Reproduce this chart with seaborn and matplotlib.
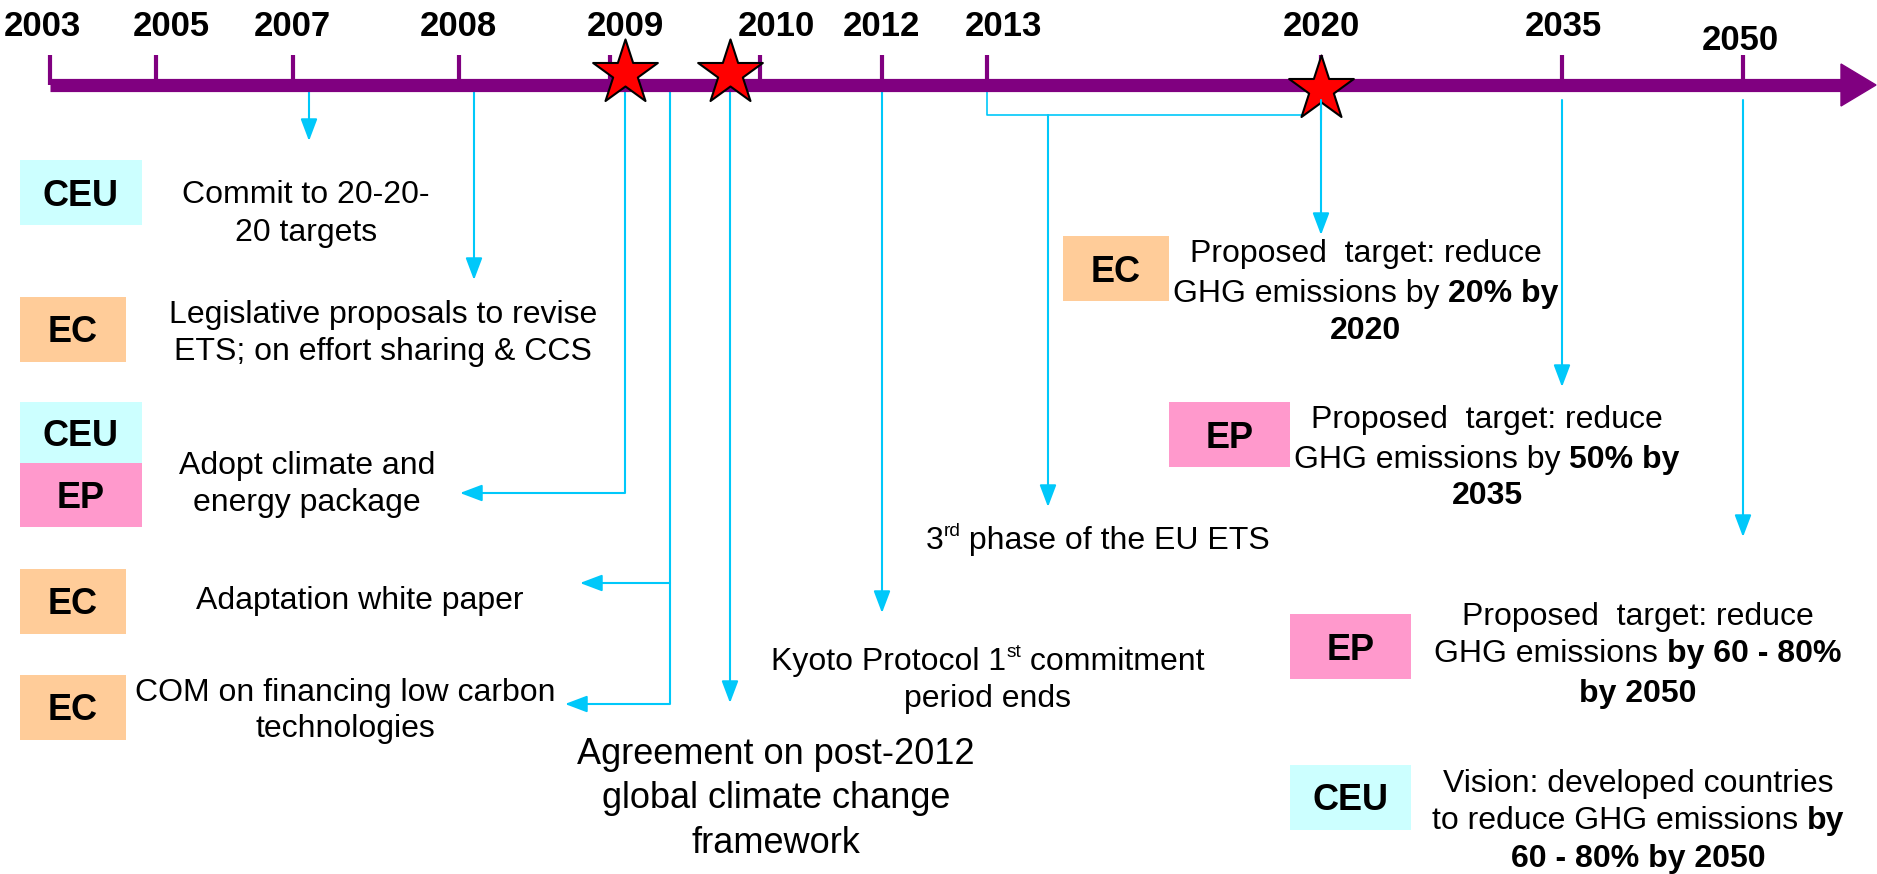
import matplotlib
matplotlib.use("Agg")
import matplotlib.pyplot as plt
import seaborn as sns
import pandas as pd
from matplotlib.patches import Rectangle, Polygon

sns.set_theme(style="white")
plt.rcParams["font.family"] = ["Liberation Sans", "DejaVu Sans"]
plt.rcParams["text.color"] = "black"

# ---------------- data ----------------
years = ["2003", "2005", "2007", "2008", "2009", "2010", "2012", "2013", "2020", "2035", "2050"]
year_pos = [50, 156, 293, 459, 610, 760, 882, 987, 1321, 1562, 1743]
label_pos = [42, 171, 292, 458, 625, 776, 881, 1003, 1321, 1563, 1740]
star_pos = [625, 730, 1321]

agency_colors = {"CEU": "#CCFFFF", "EC": "#FFCC99", "EP": "#FF99CC"}

# agency boxes: (name, x0, y0, x1, y1)
box_names = ["CEU", "EC", "CEU", "EP", "EC", "EC", "EC", "EP", "EP", "CEU"]
box_x0 = [20, 20, 20, 20, 20, 20, 1063, 1169, 1290, 1290]
box_y0 = [160, 297, 402, 463, 569, 675, 236, 402, 614, 765]
box_x1 = [142, 126, 142, 142, 126, 126, 1169, 1290, 1411, 1411]
box_y1 = [225, 362, 463, 527, 634, 740, 301, 467, 679, 830]

# event texts: lines of segments (text, style) ; style: n=normal, b=bold, s=superscript
events = [
    (306, [203, 241], 23, [[("Commit to 20-20-", "n")], [("20 targets", "n")]]),
    (383, [323, 360], 23, [[("Legislative proposals to revise", "n")],
                           [("ETS; on effort sharing & CCS", "n")]]),
    (307, [474, 511], 23, [[("Adopt climate and", "n")], [("energy package", "n")]]),
    (360, [609], 23, [[("Adaptation white paper", "n")]]),
    (345, [701, 737], 23, [[("COM on financing low carbon", "n")], [("technologies", "n")]]),
    (776, [764, 808, 853], 26, [[("Agreement on post-2012", "n")],
                                [("global climate change", "n")],
                                [("framework", "n")]]),
    (988, [670, 707], 23, [[("Kyoto Protocol 1", "n"), ("st", "s"), (" commitment", "n")],
                           [("period ends", "n")]]),
    (1098, [549], 23, [[("3", "n"), ("rd", "s"), (" phase of the EU ETS", "n")]]),
    (1366, [262, 302, 339], 23, [[("Proposed  target: reduce", "n")],
                                 [("GHG emissions by ", "n"), ("20% by", "b")],
                                 [("2020", "b")]]),
    (1487, [428, 468, 504], 23, [[("Proposed  target: reduce", "n")],
                                 [("GHG emissions by ", "n"), ("50% by", "b")],
                                 [("2035", "b")]]),
    (1638, [625, 662, 702], 23, [[("Proposed  target: reduce", "n")],
                                 [("GHG emissions ", "n"), ("by 60 - 80%", "b")],
                                 [("by 2050", "b")]]),
    (1638, [792, 829, 867], 23, [[("Vision: developed countries", "n")],
                                 [("to reduce GHG emissions ", "n"), ("by", "b")],
                                 [("60 - 80% by 2050", "b")]]),
]

# connector paths (last segment gets an arrow head if flag True)
paths = [
    ([(309, 85), (309, 141)], True),
    ([(474, 85), (474, 280)], True),
    ([(625, 85), (625, 493), (460, 493)], True),
    ([(670, 85), (670, 704), (565, 704)], True),
    ([(670, 583), (580, 583)], True),
    ([(730, 85), (730, 703)], True),
    ([(882, 85), (882, 613)], True),
    ([(987, 85), (987, 115), (1304, 115), (1309, 108)], False),
    ([(1048, 115), (1048, 507)], True),
    ([(1321, 100), (1321, 235)], True),
    ([(1562, 100), (1562, 387)], True),
    ([(1743, 100), (1743, 537)], True),
]

PURPLE = "#800080"
BLUE = "#00C8FA"

W, H = 1877, 874
fig = plt.figure(figsize=(W / 100, H / 100), dpi=100)
ax = fig.add_axes([0, 0, 1, 1])
ax.set_xlim(0, W)
ax.set_ylim(H, 0)
ax.axis("off")

# timeline bar + arrow head
ax.plot([year_pos[0], 1845], [85, 85], color=PURPLE, lw=9.5, solid_capstyle="butt", zorder=3)
ax.add_patch(Polygon([(1841, 64), (1841, 106), (1876, 85)], closed=True,
                     facecolor=PURPLE, edgecolor=PURPLE, zorder=3))
for x in year_pos:
    ax.plot([x, x], [55, 85], color=PURPLE, lw=3, zorder=3, solid_capstyle="butt")
for lab, lx in zip(years, label_pos):
    ly = 41 if lab == "2050" else 27
    ax.text(lx, ly, lab, fontsize=25, fontweight="bold", ha="center", va="center",
            color="black", zorder=4)

# connectors
for pts, arrow in paths:
    xs = [p[0] for p in pts]
    ys = [p[1] for p in pts]
    if arrow:
        ax.plot(xs[:-1], ys[:-1], color=BLUE, lw=1.5, zorder=2, solid_capstyle="butt")
        ax.annotate("", xy=pts[-1], xytext=pts[-2],
                    arrowprops=dict(arrowstyle="-|>,head_length=0.45,head_width=0.17",
                                    color=BLUE, lw=1.5, mutation_scale=30,
                                    shrinkA=0, shrinkB=0), zorder=2)
    else:
        ax.plot(xs, ys, color=BLUE, lw=1.2, zorder=2)

# stars via seaborn
stars = pd.DataFrame({"x": star_pos, "y": [73, 73, 89]})
sns.scatterplot(data=stars, x="x", y="y", marker="*", s=2400, color="red",
                edgecolor="black", linewidth=1.5, ax=ax, zorder=5, legend=False)
ax.plot([1321, 1321], [100, 120], color=BLUE, lw=1.5, zorder=6)

# agency boxes
for name, x0, y0, x1, y1 in zip(box_names, box_x0, box_y0, box_x1, box_y1):
    ax.add_patch(Rectangle((x0, y0), x1 - x0, y1 - y0, facecolor=agency_colors[name],
                           edgecolor="none", zorder=1))
    ax.text((x0 + x1) / 2, (y0 + y1) / 2 + 13, name, fontsize=26, fontweight="bold",
            ha="center", va="baseline", color="black", zorder=2)

renderer = fig.canvas.get_renderer()


def seg_width(txt, size, weight):
    t1 = ax.text(0, 0, "x" + txt + "x", fontsize=size, fontweight=weight)
    t2 = ax.text(0, 0, "xx", fontsize=size, fontweight=weight)
    w = t1.get_window_extent(renderer).width - t2.get_window_extent(renderer).width
    t1.remove()
    t2.remove()
    return w


for cx, baselines, size, lines in events:
    for base, segs in zip(baselines, lines):
        specs = []
        for txt, style in segs:
            if style == "s":
                sz, wt, dy = size * 0.6, "normal", -size * 0.55
            elif style == "b":
                sz, wt, dy = size, "bold", 0
            else:
                sz, wt, dy = size, "normal", 0
            specs.append((txt, sz, wt, dy, seg_width(txt, sz, wt)))
        total = sum(s[4] for s in specs)
        x = cx - total / 2
        for txt, sz, wt, dy, w in specs:
            ax.text(x, base + dy, txt, fontsize=sz, fontweight=wt, ha="left",
                    va="baseline", color="black", zorder=4)
            x += w

ax.set_xlim(0, W)
ax.set_ylim(H, 0)
fig.savefig("out.png", dpi=100, facecolor="white")
